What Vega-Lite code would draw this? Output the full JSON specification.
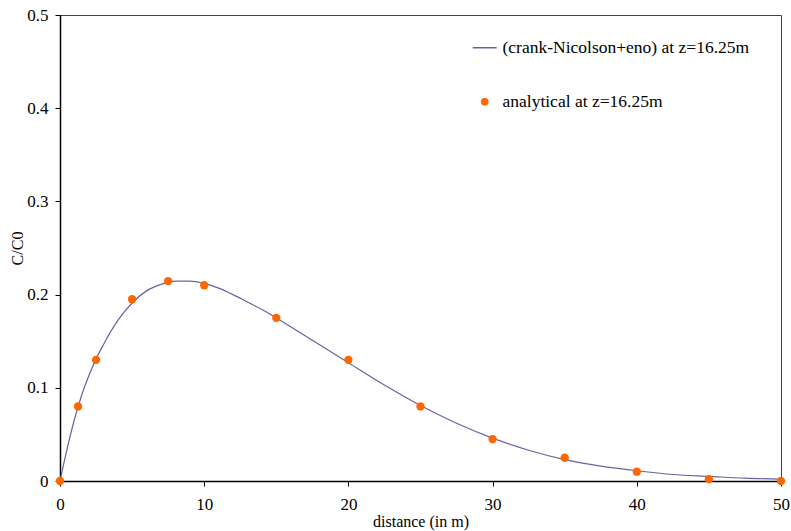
{
  "$schema": "https://vega.github.io/schema/vega-lite/v6.json",
  "width": 721,
  "height": 466,
  "autosize": {"type": "none"},
  "padding": {"left": 60, "top": 15, "right": 10, "bottom": 50},
  "background": "white",
  "config": {
    "font": "Liberation Serif",
    "view": {"stroke": "#444444", "strokeWidth": 1},
    "axis": {
      "grid": false,
      "domainColor": "#000000",
      "domainWidth": 1.5,
      "tickColor": "#000000",
      "tickSize": 5,
      "labelFlush": false,
      "labelFont": "Liberation Serif",
      "labelFontSize": 17,
      "labelColor": "#000000",
      "titleFont": "Liberation Serif",
      "titleFontSize": 16,
      "titleFontWeight": "normal",
      "titleColor": "#000000"
    },
    "legend": {
      "labelFont": "Liberation Serif"
    }
  },
  "datasets": {
    "line": [
      {"x": 0, "y": 0}, {"x": 0.5, "y": 0.035}, {"x": 1, "y": 0.066}, {"x": 1.5, "y": 0.092},
      {"x": 2, "y": 0.113}, {"x": 2.5, "y": 0.131}, {"x": 3, "y": 0.146}, {"x": 4, "y": 0.172},
      {"x": 5, "y": 0.191}, {"x": 6, "y": 0.204}, {"x": 7, "y": 0.211}, {"x": 8, "y": 0.2145},
      {"x": 9, "y": 0.2145}, {"x": 10, "y": 0.212}, {"x": 11, "y": 0.207}, {"x": 12, "y": 0.2},
      {"x": 13, "y": 0.192}, {"x": 14, "y": 0.184}, {"x": 15, "y": 0.175}, {"x": 17.5, "y": 0.151},
      {"x": 20, "y": 0.127}, {"x": 22.5, "y": 0.103}, {"x": 25, "y": 0.081}, {"x": 27.5, "y": 0.062},
      {"x": 30, "y": 0.046}, {"x": 32.5, "y": 0.033}, {"x": 35, "y": 0.023}, {"x": 37.5, "y": 0.016},
      {"x": 40, "y": 0.011}, {"x": 42.5, "y": 0.007}, {"x": 45, "y": 0.005}, {"x": 47.5, "y": 0.003},
      {"x": 50, "y": 0.002}
    ],
    "points": [
      {"x": 0, "y": 0}, {"x": 1.25, "y": 0.08}, {"x": 2.5, "y": 0.13}, {"x": 5, "y": 0.195},
      {"x": 7.5, "y": 0.2145}, {"x": 10, "y": 0.21}, {"x": 15, "y": 0.175}, {"x": 20, "y": 0.13},
      {"x": 25, "y": 0.08}, {"x": 30, "y": 0.045}, {"x": 35, "y": 0.025}, {"x": 40, "y": 0.01},
      {"x": 45, "y": 0.002}, {"x": 50, "y": 0}
    ]
  },
  "layer": [
    {
      "data": {"name": "line"},
      "transform": [{"calculate": "'(crank-Nicolson+eno) at z=16.25m'", "as": "series"}],
      "mark": {"type": "line", "interpolate": "monotone", "strokeWidth": 1.2, "clip": true},
      "encoding": {
        "x": {"field": "x", "type": "quantitative", "scale": {"domain": [0, 50], "nice": false},
              "axis": {"values": [0, 10, 20, 30, 40, 50], "title": "distance (in m)", "labelPadding": 10, "titlePadding": 1}},
        "y": {"field": "y", "type": "quantitative", "scale": {"domain": [0, 0.5], "nice": false},
              "axis": {"values": [0, 0.1, 0.2, 0.3, 0.4, 0.5], "format": "~g", "title": "C/C0", "labelPadding": 7, "titlePadding": 1}},
        "color": {
          "field": "series", "type": "nominal",
          "scale": {"domain": ["(crank-Nicolson+eno) at z=16.25m", "analytical at z=16.25m"], "range": ["#6464a4", "#ff6600"]},
          "legend": {
            "title": null,
            "orient": "none",
            "legendX": 416,
            "legendY": 24,
            "labelFontSize": 17.5,
            "labelColor": "#000000",
            "labelLimit": 400,
            "rowPadding": 35,
            "labelOffset": 9,
            "symbolSize": 576,
            "encode": {
              "symbols": {
                "update": {
                  "shape": {"signal": "datum.value === 'analytical at z=16.25m' ? 'circle' : 'stroke'"},
                  "size": {"signal": "datum.value === 'analytical at z=16.25m' ? 60 : 576"},
                  "fill": {"signal": "datum.value === 'analytical at z=16.25m' ? '#ff6600' : 'transparent'"},
                  "stroke": {"signal": "datum.value === 'analytical at z=16.25m' ? '#ff6600' : '#9090c0'"},
                  "strokeWidth": {"signal": "datum.value === 'analytical at z=16.25m' ? 0 : 1.5"},
                  "opacity": {"value": 1}
                }
              }
            }
          }
        }
      }
    },
    {
      "data": {"name": "points"},
      "transform": [{"calculate": "'analytical at z=16.25m'", "as": "series"}],
      "mark": {"type": "point", "filled": true, "size": 70, "opacity": 1, "clip": false},
      "encoding": {
        "x": {"field": "x", "type": "quantitative"},
        "y": {"field": "y", "type": "quantitative"},
        "color": {"field": "series", "type": "nominal"}
      }
    }
  ]
}
